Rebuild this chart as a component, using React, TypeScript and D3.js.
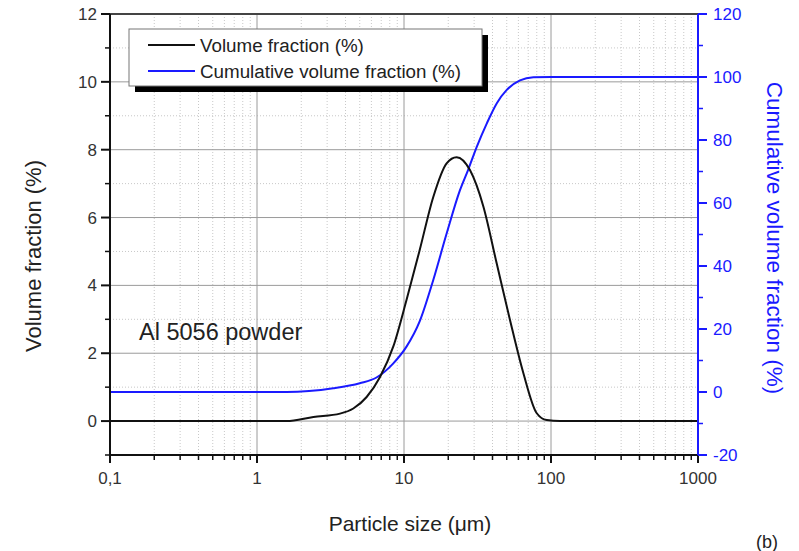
import React from "react";
import * as d3 from "d3";

// particle size (µm) and volume fraction (%)
const volSize = [0.1, 1.59, 2.42, 3.67, 4.52, 5.57, 6.87, 8.46, 10.4, 12.8, 15.8, 19.5, 22.8, 28.1, 34.7, 42.7, 52.6, 64.9, 80, 93.5, 115, 1000];
const volFrac = [0, 0, 0.12, 0.22, 0.37, 0.71, 1.3, 2.2, 3.57, 5.05, 6.6, 7.6, 7.78, 7.4, 6.32, 4.65, 2.98, 1.41, 0.23, 0.03, 0, 0];

// particle size (µm) and cumulative volume fraction (%)
const cumSize = [0.1, 1.59, 3.3, 5.0, 6.5, 8.46, 10.4, 12.8, 15.8, 19.5, 24.0, 27.4, 31.3, 36.6, 42.8, 50, 61.5, 75.9, 100, 1000];
const cumFrac = [0, 0, 1.2, 2.8, 4.6, 9.1, 14.4, 22.5, 35.5, 50.3, 64, 70.7, 77.9, 85.3, 91.7, 95.9, 98.9, 99.9, 100, 100];

const xMajor = [0.1, 1, 10, 100, 1000];
const xLabels = ["0,1", "1", "10", "100", "1000"];
const yLeftTicks = [0, 2, 4, 6, 8, 10, 12];
const yRightTicks = [-20, 0, 20, 40, 60, 80, 100, 120];

const FONT = "Arial, 'Liberation Sans', sans-serif";
const BLUE = "#1a1aff";

export default function App() {
  const left = 110, right = 698, top = 14, bottom = 455;
  const x = d3.scaleLog().domain([0.1, 1000]).range([left, right]);
  const yL = d3.scaleLinear().domain([-1, 12]).range([bottom, top]);
  const yR = d3.scaleLinear().domain([-20, 120]).range([bottom, top]);

  const xMinor: number[] = [];
  xMajor.slice(0, -1).forEach((m) => {
    for (let k = 2; k <= 9; k++) xMinor.push(m * k);
  });
  const yLMinor = d3.range(1, 12, 2);
  const yRMinor = d3.range(-10, 120, 20);

  const volLine = d3
    .line<number>()
    .x((_, i) => x(volSize[i]))
    .y((v) => yL(v))
    .curve(d3.curveMonotoneX);
  const cumLine = d3
    .line<number>()
    .x((_, i) => x(cumSize[i]))
    .y((v) => yR(v))
    .curve(d3.curveMonotoneX);

  return (
    <svg width={799} height={551} style={{ position: "absolute", left: 0, top: 0, background: "#fff" }} fontFamily={FONT}>
      {/* grid */}
      {xMinor.map((v) => (
        <line key={"xm" + v} x1={x(v)} x2={x(v)} y1={top} y2={bottom} stroke="#c8c8c8" strokeWidth={1} strokeDasharray="1,2" />
      ))}
      {yLMinor.map((v) => (
        <line key={"ym" + v} x1={left} x2={right} y1={yL(v)} y2={yL(v)} stroke="#c8c8c8" strokeWidth={1} strokeDasharray="1,2" />
      ))}
      {xMajor.slice(1, -1).map((v) => (
        <line key={"xM" + v} x1={x(v)} x2={x(v)} y1={top} y2={bottom} stroke="#9a9a9a" strokeWidth={1} />
      ))}
      {yLeftTicks.slice(0, -1).map((v) => (
        <line key={"yM" + v} x1={left} x2={right} y1={yL(v)} y2={yL(v)} stroke="#9a9a9a" strokeWidth={1} />
      ))}

      {/* curves */}
      <path d={cumLine(cumFrac) || ""} fill="none" stroke={BLUE} strokeWidth={2} />
      <path d={volLine(volFrac) || ""} fill="none" stroke="#111" strokeWidth={2} />

      {/* frame */}
      <line x1={left} x2={right} y1={top} y2={top} stroke="#444" strokeWidth={2} />
      <line x1={left} x2={right} y1={bottom} y2={bottom} stroke="#111" strokeWidth={2} />
      <line x1={left} x2={left} y1={top} y2={bottom} stroke="#111" strokeWidth={2} />
      <line x1={right} x2={right} y1={top} y2={bottom} stroke={BLUE} strokeWidth={2} />

      {/* bottom axis */}
      {xMajor.map((v, i) => (
        <g key={"bx" + v}>
          <line x1={x(v)} x2={x(v)} y1={bottom} y2={bottom + 8} stroke="#111" strokeWidth={2} />
          <text x={x(v)} y={484} textAnchor="middle" fontSize={17} fill="#333">{xLabels[i]}</text>
        </g>
      ))}
      {xMinor.map((v) => (
        <line key={"bm" + v} x1={x(v)} x2={x(v)} y1={bottom} y2={bottom + 5} stroke="#111" strokeWidth={1.5} />
      ))}

      {/* left axis */}
      {yLeftTicks.map((v) => (
        <g key={"ly" + v}>
          <line x1={left - 9} x2={left} y1={yL(v)} y2={yL(v)} stroke="#111" strokeWidth={2} />
          <text x={97} y={yL(v) + 6} textAnchor="end" fontSize={17} fill="#333">{v}</text>
        </g>
      ))}
      {yLMinor.map((v) => (
        <line key={"lm" + v} x1={left - 5} x2={left} y1={yL(v)} y2={yL(v)} stroke="#111" strokeWidth={1.5} />
      ))}
      <line x1={left - 5} x2={left} y1={yL(-1)} y2={yL(-1)} stroke="#111" strokeWidth={1.5} />

      {/* right axis */}
      {yRightTicks.map((v) => (
        <g key={"ry" + v}>
          <line x1={right} x2={right + 9} y1={yR(v)} y2={yR(v)} stroke={BLUE} strokeWidth={2} />
          <text x={713} y={yR(v) + 6} textAnchor="start" fontSize={17} fill={BLUE}>{v}</text>
        </g>
      ))}
      {yRMinor.map((v) => (
        <line key={"rm" + v} x1={right} x2={right + 5} y1={yR(v)} y2={yR(v)} stroke={BLUE} strokeWidth={1.5} />
      ))}

      {/* axis titles */}
      <text transform="translate(41,256) rotate(-90)" textAnchor="middle" fontSize={22} fill="#222">Volume fraction (%)</text>
      <text transform="translate(767,238) rotate(90)" textAnchor="middle" fontSize={22.5} fill={BLUE}>Cumulative volume fraction (%)</text>
      <text x={410} y={531} textAnchor="middle" fontSize={21} fill="#222">Particle size (μm)</text>
      <text x={767} y={548} textAnchor="middle" fontSize={18} fill="#222">(b)</text>
      <text x={139} y={340} fontSize={23.5} fill="#222">Al 5056 powder</text>

      {/* legend */}
      <rect x={135} y={35} width={353} height={57} fill="#000" />
      <rect x={129} y={29} width={353} height={57} fill="#fff" stroke="#777" strokeWidth={1} />
      <line x1={148} x2={195} y1={45} y2={45} stroke="#111" strokeWidth={2} />
      <text x={200} y={52} fontSize={18.8} fill="#222">Volume fraction (%)</text>
      <line x1={148} x2={195} y1={71} y2={71} stroke={BLUE} strokeWidth={2} />
      <text x={200} y={78} fontSize={18.8} fill="#222">Cumulative volume fraction (%)</text>
    </svg>
  );
}
